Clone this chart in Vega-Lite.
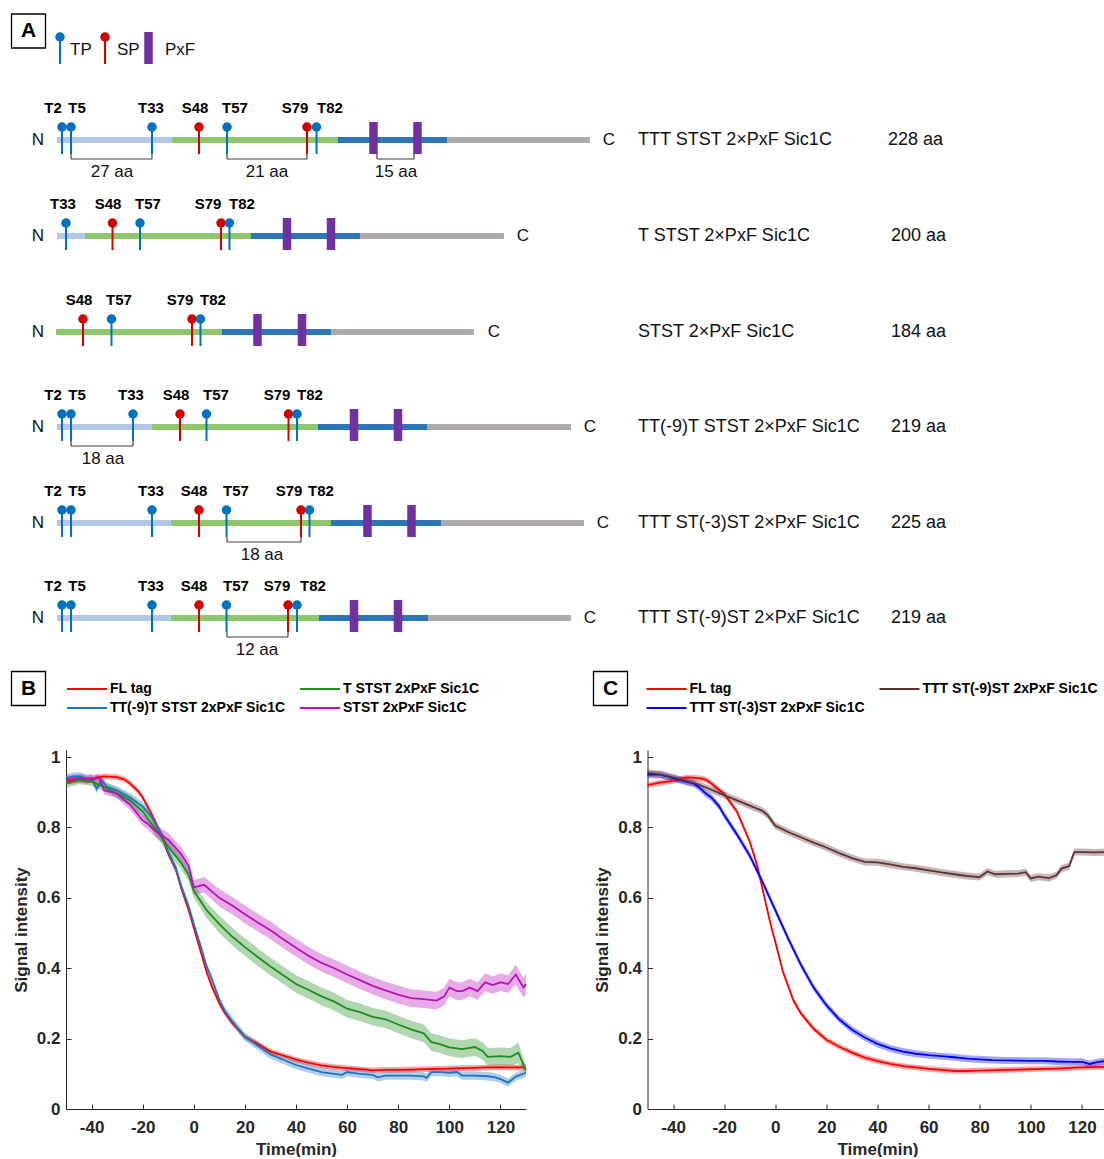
{
"$schema": "https://vega.github.io/schema/vega-lite/v6.json",
"background": "white",
"padding": {"left": 8, "top": 0, "right": 0, "bottom": 0},
"autosize": {"type": "pad"},
"bounds": "flush",
"spacing": 10,
"config": {
  "view": {"stroke": null},
  "font": "Liberation Sans",
  "axis": {"grid": false, "domainColor": "#262626", "tickColor": "#262626", "labelColor": "#262626", "titleColor": "#262626", "labelFont": "Liberation Sans", "titleFont": "Liberation Sans", "labelFontSize": 17, "labelFontWeight": "bold", "titleFontSize": 17, "titleFontWeight": "bold", "tickSize": -5, "labelPadding": 11, "labelFlush": false, "labelExpr": "'' + datum.value"},
  "axisX": {"labelPadding": 15, "titlePadding": 6},
  "axisY": {"titlePadding": 6},
  "legend": {"orient": "none", "columns": 2, "columnPadding": 10, "rowPadding": 5, "symbolType": "M-1,0H9", "symbolSize": 64, "symbolStrokeWidth": 2, "labelOffset": 32, "labelFontSize": 14, "labelFontWeight": "bold", "labelFont": "Liberation Sans", "labelColor": "#000000", "labelLimit": 400}
},
"datasets": {
  "segments": [
    {"x":57,"x2":172,"y":140,"part":"TTT"},{"x":172,"x2":338,"y":140,"part":"STST"},{"x":338,"x2":447,"y":140,"part":"Dock"},{"x":447,"x2":590,"y":140,"part":"Sic1C"},
    {"x":57,"x2":85,"y":236,"part":"TTT"},{"x":85,"x2":251,"y":236,"part":"STST"},{"x":251,"x2":360,"y":236,"part":"Dock"},{"x":360,"x2":504,"y":236,"part":"Sic1C"},
    {"x":56,"x2":222,"y":332,"part":"STST"},{"x":222,"x2":331,"y":332,"part":"Dock"},{"x":331,"x2":474,"y":332,"part":"Sic1C"},
    {"x":57,"x2":152,"y":427,"part":"TTT"},{"x":152,"x2":318,"y":427,"part":"STST"},{"x":318,"x2":427,"y":427,"part":"Dock"},{"x":427,"x2":571,"y":427,"part":"Sic1C"},
    {"x":57,"x2":171,"y":523,"part":"TTT"},{"x":171,"x2":331,"y":523,"part":"STST"},{"x":331,"x2":441,"y":523,"part":"Dock"},{"x":441,"x2":584,"y":523,"part":"Sic1C"},
    {"x":57,"x2":171,"y":618,"part":"TTT"},{"x":171,"x2":319,"y":618,"part":"STST"},{"x":319,"x2":428,"y":618,"part":"Dock"},{"x":428,"x2":571,"y":618,"part":"Sic1C"}
  ],
  "sites": [
    {"y":50,"x":60,"type":"TP","name":"","lx":60},{"y":50,"x":105,"type":"SP","name":"","lx":105},
    {"y":140,"x":62,"type":"TP","name":"T2","lx":53},{"y":140,"x":71,"type":"TP","name":"T5","lx":77},{"y":140,"x":152,"type":"TP","name":"T33","lx":151},{"y":140,"x":199,"type":"SP","name":"S48","lx":195},{"y":140,"x":227,"type":"TP","name":"T57","lx":235},{"y":140,"x":307,"type":"SP","name":"S79","lx":295},{"y":140,"x":316.5,"type":"TP","name":"T82","lx":330},
    {"y":236,"x":66,"type":"TP","name":"T33","lx":63},{"y":236,"x":112.5,"type":"SP","name":"S48","lx":108},{"y":236,"x":140,"type":"TP","name":"T57","lx":148},{"y":236,"x":221,"type":"SP","name":"S79","lx":208},{"y":236,"x":229.5,"type":"TP","name":"T82","lx":242},
    {"y":332,"x":83,"type":"SP","name":"S48","lx":79},{"y":332,"x":111.5,"type":"TP","name":"T57","lx":119},{"y":332,"x":192,"type":"SP","name":"S79","lx":180},{"y":332,"x":200.5,"type":"TP","name":"T82","lx":213},
    {"y":427,"x":62,"type":"TP","name":"T2","lx":53},{"y":427,"x":71,"type":"TP","name":"T5","lx":77},{"y":427,"x":133,"type":"TP","name":"T33","lx":131},{"y":427,"x":180,"type":"SP","name":"S48","lx":176},{"y":427,"x":206.5,"type":"TP","name":"T57","lx":216},{"y":427,"x":288.5,"type":"SP","name":"S79","lx":277},{"y":427,"x":297,"type":"TP","name":"T82","lx":310},
    {"y":523,"x":62,"type":"TP","name":"T2","lx":53},{"y":523,"x":71,"type":"TP","name":"T5","lx":77},{"y":523,"x":152,"type":"TP","name":"T33","lx":151},{"y":523,"x":199,"type":"SP","name":"S48","lx":194},{"y":523,"x":226.5,"type":"TP","name":"T57","lx":236},{"y":523,"x":301,"type":"SP","name":"S79","lx":289},{"y":523,"x":309.5,"type":"TP","name":"T82","lx":321},
    {"y":618,"x":62,"type":"TP","name":"T2","lx":53},{"y":618,"x":71,"type":"TP","name":"T5","lx":77},{"y":618,"x":152,"type":"TP","name":"T33","lx":151},{"y":618,"x":199,"type":"SP","name":"S48","lx":194},{"y":618,"x":226.5,"type":"TP","name":"T57","lx":236},{"y":618,"x":288,"type":"SP","name":"S79","lx":277},{"y":618,"x":297,"type":"TP","name":"T82","lx":313}
  ],
  "pxf": [
    {"y":50,"x":148.5},
    {"y":140,"x":373.5},{"y":140,"x":417.5},
    {"y":236,"x":287},{"y":236,"x":331},
    {"y":332,"x":257.5},{"y":332,"x":302},
    {"y":427,"x":354},{"y":427,"x":398},
    {"y":523,"x":367.5},{"y":523,"x":411.5},
    {"y":618,"x":354},{"y":618,"x":398}
  ],
  "brackets": [
    {"y":140,"x":71,"x2":152,"label":"27 aa","lx":112},
    {"y":140,"x":227,"x2":307,"label":"21 aa","lx":267},
    {"y":140,"x":377,"x2":414,"label":"15 aa","lx":396},
    {"y":427,"x":71,"x2":133,"label":"18 aa","lx":103},
    {"y":523,"x":227,"x2":301,"label":"18 aa","lx":262},
    {"y":618,"x":227,"x2":288,"label":"12 aa","lx":257}
  ],
  "ends": [
    {"y":140,"x":38,"t":"N"},{"y":140,"x":609,"t":"C"},
    {"y":236,"x":38,"t":"N"},{"y":236,"x":523,"t":"C"},
    {"y":332,"x":38,"t":"N"},{"y":332,"x":494,"t":"C"},
    {"y":427,"x":38,"t":"N"},{"y":427,"x":590,"t":"C"},
    {"y":523,"x":38,"t":"N"},{"y":523,"x":603,"t":"C"},
    {"y":618,"x":38,"t":"N"},{"y":618,"x":590,"t":"C"}
  ],
  "names": [
    {"y":140,"x":638,"t":"TTT STST 2×PxF Sic1C"},{"y":140,"x":888,"t":"228 aa"},
    {"y":236,"x":638,"t":"T STST 2×PxF Sic1C"},{"y":236,"x":891,"t":"200 aa"},
    {"y":332,"x":638,"t":"STST 2×PxF Sic1C"},{"y":332,"x":891,"t":"184 aa"},
    {"y":427,"x":638,"t":"TT(-9)T STST 2×PxF Sic1C"},{"y":427,"x":891,"t":"219 aa"},
    {"y":523,"x":638,"t":"TTT ST(-3)ST 2×PxF Sic1C"},{"y":523,"x":891,"t":"225 aa"},
    {"y":618,"x":638,"t":"TTT ST(-9)ST 2×PxF Sic1C"},{"y":618,"x":891,"t":"219 aa"}
  ],
  "keys": [
    {"y":50,"x":70,"t":"TP"},{"y":50,"x":117,"t":"SP"},{"y":50,"x":165,"t":"PxF"}
  ],
  "letters": [
    {"y":31,"x":28.5,"t":"A"},{"y":688.5,"x":28.5,"t":"B"},{"y":688.5,"x":610.5,"t":"C"}
  ],
  "B": [
    {"s":"FL tag","t":-50,"v":0.930,"e":0.008},{"s":"FL tag","t":-45,"v":0.935,"e":0.008},{"s":"FL tag","t":-40,"v":0.935,"e":0.008},{"s":"FL tag","t":-38,"v":0.942,"e":0.008},{"s":"FL tag","t":-35,"v":0.945,"e":0.008},{"s":"FL tag","t":-30,"v":0.943,"e":0.008},{"s":"FL tag","t":-27,"v":0.936,"e":0.008},{"s":"FL tag","t":-25,"v":0.925,"e":0.008},{"s":"FL tag","t":-22,"v":0.905,"e":0.008},{"s":"FL tag","t":-20,"v":0.885,"e":0.008},{"s":"FL tag","t":-17,"v":0.845,"e":0.008},{"s":"FL tag","t":-15,"v":0.815,"e":0.008},{"s":"FL tag","t":-12,"v":0.765,"e":0.008},{"s":"FL tag","t":-10,"v":0.725,"e":0.008},{"s":"FL tag","t":-7,"v":0.68,"e":0.008},{"s":"FL tag","t":-5,"v":0.63,"e":0.008},{"s":"FL tag","t":-2,"v":0.565,"e":0.008},{"s":"FL tag","t":0,"v":0.515,"e":0.008},{"s":"FL tag","t":3,"v":0.44,"e":0.008},{"s":"FL tag","t":5,"v":0.39,"e":0.008},{"s":"FL tag","t":7,"v":0.35,"e":0.008},{"s":"FL tag","t":10,"v":0.30,"e":0.008},{"s":"FL tag","t":12,"v":0.275,"e":0.008},{"s":"FL tag","t":15,"v":0.245,"e":0.008},{"s":"FL tag","t":20,"v":0.205,"e":0.008},{"s":"FL tag","t":25,"v":0.185,"e":0.008},{"s":"FL tag","t":30,"v":0.163,"e":0.008},{"s":"FL tag","t":35,"v":0.152,"e":0.008},{"s":"FL tag","t":40,"v":0.140,"e":0.008},{"s":"FL tag","t":45,"v":0.131,"e":0.008},{"s":"FL tag","t":50,"v":0.124,"e":0.008},{"s":"FL tag","t":55,"v":0.119,"e":0.008},{"s":"FL tag","t":60,"v":0.116,"e":0.008},{"s":"FL tag","t":65,"v":0.113,"e":0.008},{"s":"FL tag","t":70,"v":0.110,"e":0.008},{"s":"FL tag","t":75,"v":0.111,"e":0.008},{"s":"FL tag","t":80,"v":0.111,"e":0.008},{"s":"FL tag","t":85,"v":0.112,"e":0.008},{"s":"FL tag","t":90,"v":0.113,"e":0.008},{"s":"FL tag","t":95,"v":0.114,"e":0.008},{"s":"FL tag","t":100,"v":0.115,"e":0.008},{"s":"FL tag","t":105,"v":0.116,"e":0.008},{"s":"FL tag","t":110,"v":0.117,"e":0.008},{"s":"FL tag","t":115,"v":0.118,"e":0.008},{"s":"FL tag","t":120,"v":0.119,"e":0.008},{"s":"FL tag","t":125,"v":0.118,"e":0.008},{"s":"FL tag","t":130,"v":0.118,"e":0.008},
    {"s":"TT(-9)T STST 2xPxF Sic1C","t":-50,"v":0.94,"e":0.012},{"s":"TT(-9)T STST 2xPxF Sic1C","t":-47,"v":0.945,"e":0.012},{"s":"TT(-9)T STST 2xPxF Sic1C","t":-44,"v":0.945,"e":0.012},{"s":"TT(-9)T STST 2xPxF Sic1C","t":-42,"v":0.935,"e":0.012},{"s":"TT(-9)T STST 2xPxF Sic1C","t":-40,"v":0.94,"e":0.012},{"s":"TT(-9)T STST 2xPxF Sic1C","t":-38,"v":0.91,"e":0.012},{"s":"TT(-9)T STST 2xPxF Sic1C","t":-36,"v":0.935,"e":0.012},{"s":"TT(-9)T STST 2xPxF Sic1C","t":-34,"v":0.915,"e":0.012},{"s":"TT(-9)T STST 2xPxF Sic1C","t":-30,"v":0.905,"e":0.012},{"s":"TT(-9)T STST 2xPxF Sic1C","t":-25,"v":0.885,"e":0.012},{"s":"TT(-9)T STST 2xPxF Sic1C","t":-20,"v":0.86,"e":0.012},{"s":"TT(-9)T STST 2xPxF Sic1C","t":-17,"v":0.835,"e":0.012},{"s":"TT(-9)T STST 2xPxF Sic1C","t":-15,"v":0.81,"e":0.012},{"s":"TT(-9)T STST 2xPxF Sic1C","t":-12,"v":0.77,"e":0.012},{"s":"TT(-9)T STST 2xPxF Sic1C","t":-10,"v":0.73,"e":0.012},{"s":"TT(-9)T STST 2xPxF Sic1C","t":-7,"v":0.685,"e":0.012},{"s":"TT(-9)T STST 2xPxF Sic1C","t":-5,"v":0.635,"e":0.012},{"s":"TT(-9)T STST 2xPxF Sic1C","t":-2,"v":0.575,"e":0.012},{"s":"TT(-9)T STST 2xPxF Sic1C","t":0,"v":0.525,"e":0.012},{"s":"TT(-9)T STST 2xPxF Sic1C","t":3,"v":0.455,"e":0.012},{"s":"TT(-9)T STST 2xPxF Sic1C","t":5,"v":0.405,"e":0.012},{"s":"TT(-9)T STST 2xPxF Sic1C","t":7,"v":0.37,"e":0.012},{"s":"TT(-9)T STST 2xPxF Sic1C","t":10,"v":0.31,"e":0.012},{"s":"TT(-9)T STST 2xPxF Sic1C","t":12,"v":0.28,"e":0.012},{"s":"TT(-9)T STST 2xPxF Sic1C","t":15,"v":0.25,"e":0.012},{"s":"TT(-9)T STST 2xPxF Sic1C","t":20,"v":0.205,"e":0.012},{"s":"TT(-9)T STST 2xPxF Sic1C","t":25,"v":0.18,"e":0.012},{"s":"TT(-9)T STST 2xPxF Sic1C","t":30,"v":0.155,"e":0.012},{"s":"TT(-9)T STST 2xPxF Sic1C","t":35,"v":0.14,"e":0.012},{"s":"TT(-9)T STST 2xPxF Sic1C","t":40,"v":0.125,"e":0.012},{"s":"TT(-9)T STST 2xPxF Sic1C","t":45,"v":0.115,"e":0.012},{"s":"TT(-9)T STST 2xPxF Sic1C","t":50,"v":0.105,"e":0.012},{"s":"TT(-9)T STST 2xPxF Sic1C","t":55,"v":0.1,"e":0.012},{"s":"TT(-9)T STST 2xPxF Sic1C","t":58,"v":0.097,"e":0.012},{"s":"TT(-9)T STST 2xPxF Sic1C","t":60,"v":0.105,"e":0.012},{"s":"TT(-9)T STST 2xPxF Sic1C","t":65,"v":0.1,"e":0.012},{"s":"TT(-9)T STST 2xPxF Sic1C","t":70,"v":0.097,"e":0.012},{"s":"TT(-9)T STST 2xPxF Sic1C","t":72,"v":0.09,"e":0.012},{"s":"TT(-9)T STST 2xPxF Sic1C","t":75,"v":0.095,"e":0.012},{"s":"TT(-9)T STST 2xPxF Sic1C","t":80,"v":0.095,"e":0.012},{"s":"TT(-9)T STST 2xPxF Sic1C","t":85,"v":0.095,"e":0.012},{"s":"TT(-9)T STST 2xPxF Sic1C","t":90,"v":0.093,"e":0.012},{"s":"TT(-9)T STST 2xPxF Sic1C","t":91,"v":0.088,"e":0.012},{"s":"TT(-9)T STST 2xPxF Sic1C","t":93,"v":0.105,"e":0.012},{"s":"TT(-9)T STST 2xPxF Sic1C","t":97,"v":0.105,"e":0.012},{"s":"TT(-9)T STST 2xPxF Sic1C","t":100,"v":0.103,"e":0.012},{"s":"TT(-9)T STST 2xPxF Sic1C","t":103,"v":0.105,"e":0.012},{"s":"TT(-9)T STST 2xPxF Sic1C","t":105,"v":0.095,"e":0.012},{"s":"TT(-9)T STST 2xPxF Sic1C","t":110,"v":0.095,"e":0.012},{"s":"TT(-9)T STST 2xPxF Sic1C","t":115,"v":0.093,"e":0.012},{"s":"TT(-9)T STST 2xPxF Sic1C","t":118,"v":0.09,"e":0.012},{"s":"TT(-9)T STST 2xPxF Sic1C","t":120,"v":0.085,"e":0.012},{"s":"TT(-9)T STST 2xPxF Sic1C","t":123,"v":0.075,"e":0.012},{"s":"TT(-9)T STST 2xPxF Sic1C","t":126,"v":0.092,"e":0.012},{"s":"TT(-9)T STST 2xPxF Sic1C","t":130,"v":0.103,"e":0.012},
    {"s":"T STST 2xPxF Sic1C","t":-50,"v":0.925,"e":0.012},{"s":"T STST 2xPxF Sic1C","t":-45,"v":0.935,"e":0.012},{"s":"T STST 2xPxF Sic1C","t":-40,"v":0.93,"e":0.012},{"s":"T STST 2xPxF Sic1C","t":-35,"v":0.915,"e":0.012},{"s":"T STST 2xPxF Sic1C","t":-30,"v":0.897,"e":0.015},{"s":"T STST 2xPxF Sic1C","t":-25,"v":0.877,"e":0.015},{"s":"T STST 2xPxF Sic1C","t":-20,"v":0.845,"e":0.015},{"s":"T STST 2xPxF Sic1C","t":-15,"v":0.795,"e":0.018},{"s":"T STST 2xPxF Sic1C","t":-10,"v":0.745,"e":0.018},{"s":"T STST 2xPxF Sic1C","t":-5,"v":0.70,"e":0.018},{"s":"T STST 2xPxF Sic1C","t":-2,"v":0.665,"e":0.018},{"s":"T STST 2xPxF Sic1C","t":0,"v":0.62,"e":0.02},{"s":"T STST 2xPxF Sic1C","t":5,"v":0.565,"e":0.022},{"s":"T STST 2xPxF Sic1C","t":10,"v":0.525,"e":0.025},{"s":"T STST 2xPxF Sic1C","t":15,"v":0.49,"e":0.025},{"s":"T STST 2xPxF Sic1C","t":20,"v":0.46,"e":0.025},{"s":"T STST 2xPxF Sic1C","t":25,"v":0.432,"e":0.025},{"s":"T STST 2xPxF Sic1C","t":30,"v":0.405,"e":0.025},{"s":"T STST 2xPxF Sic1C","t":35,"v":0.38,"e":0.025},{"s":"T STST 2xPxF Sic1C","t":40,"v":0.355,"e":0.025},{"s":"T STST 2xPxF Sic1C","t":45,"v":0.338,"e":0.025},{"s":"T STST 2xPxF Sic1C","t":50,"v":0.32,"e":0.025},{"s":"T STST 2xPxF Sic1C","t":55,"v":0.305,"e":0.025},{"s":"T STST 2xPxF Sic1C","t":60,"v":0.285,"e":0.025},{"s":"T STST 2xPxF Sic1C","t":65,"v":0.275,"e":0.025},{"s":"T STST 2xPxF Sic1C","t":70,"v":0.262,"e":0.025},{"s":"T STST 2xPxF Sic1C","t":75,"v":0.255,"e":0.025},{"s":"T STST 2xPxF Sic1C","t":80,"v":0.24,"e":0.025},{"s":"T STST 2xPxF Sic1C","t":85,"v":0.226,"e":0.025},{"s":"T STST 2xPxF Sic1C","t":90,"v":0.215,"e":0.025},{"s":"T STST 2xPxF Sic1C","t":93,"v":0.19,"e":0.025},{"s":"T STST 2xPxF Sic1C","t":96,"v":0.185,"e":0.025},{"s":"T STST 2xPxF Sic1C","t":100,"v":0.175,"e":0.025},{"s":"T STST 2xPxF Sic1C","t":105,"v":0.17,"e":0.025},{"s":"T STST 2xPxF Sic1C","t":110,"v":0.176,"e":0.025},{"s":"T STST 2xPxF Sic1C","t":113,"v":0.165,"e":0.025},{"s":"T STST 2xPxF Sic1C","t":115,"v":0.148,"e":0.025},{"s":"T STST 2xPxF Sic1C","t":120,"v":0.15,"e":0.025},{"s":"T STST 2xPxF Sic1C","t":124,"v":0.148,"e":0.025},{"s":"T STST 2xPxF Sic1C","t":127,"v":0.16,"e":0.03},{"s":"T STST 2xPxF Sic1C","t":130,"v":0.11,"e":0.01},
    {"s":"STST 2xPxF Sic1C","t":-50,"v":0.935,"e":0.012},{"s":"STST 2xPxF Sic1C","t":-45,"v":0.94,"e":0.012},{"s":"STST 2xPxF Sic1C","t":-40,"v":0.938,"e":0.012},{"s":"STST 2xPxF Sic1C","t":-37,"v":0.94,"e":0.012},{"s":"STST 2xPxF Sic1C","t":-35,"v":0.905,"e":0.012},{"s":"STST 2xPxF Sic1C","t":-32,"v":0.9,"e":0.012},{"s":"STST 2xPxF Sic1C","t":-30,"v":0.895,"e":0.012},{"s":"STST 2xPxF Sic1C","t":-25,"v":0.865,"e":0.015},{"s":"STST 2xPxF Sic1C","t":-20,"v":0.82,"e":0.015},{"s":"STST 2xPxF Sic1C","t":-18,"v":0.81,"e":0.015},{"s":"STST 2xPxF Sic1C","t":-15,"v":0.79,"e":0.018},{"s":"STST 2xPxF Sic1C","t":-10,"v":0.765,"e":0.02},{"s":"STST 2xPxF Sic1C","t":-5,"v":0.725,"e":0.02},{"s":"STST 2xPxF Sic1C","t":-2,"v":0.69,"e":0.02},{"s":"STST 2xPxF Sic1C","t":0,"v":0.63,"e":0.02},{"s":"STST 2xPxF Sic1C","t":4,"v":0.637,"e":0.022},{"s":"STST 2xPxF Sic1C","t":10,"v":0.60,"e":0.025},{"s":"STST 2xPxF Sic1C","t":15,"v":0.578,"e":0.025},{"s":"STST 2xPxF Sic1C","t":20,"v":0.553,"e":0.025},{"s":"STST 2xPxF Sic1C","t":25,"v":0.53,"e":0.025},{"s":"STST 2xPxF Sic1C","t":30,"v":0.508,"e":0.025},{"s":"STST 2xPxF Sic1C","t":35,"v":0.482,"e":0.025},{"s":"STST 2xPxF Sic1C","t":40,"v":0.458,"e":0.025},{"s":"STST 2xPxF Sic1C","t":45,"v":0.435,"e":0.025},{"s":"STST 2xPxF Sic1C","t":50,"v":0.415,"e":0.025},{"s":"STST 2xPxF Sic1C","t":55,"v":0.4,"e":0.025},{"s":"STST 2xPxF Sic1C","t":60,"v":0.382,"e":0.025},{"s":"STST 2xPxF Sic1C","t":65,"v":0.366,"e":0.025},{"s":"STST 2xPxF Sic1C","t":70,"v":0.35,"e":0.025},{"s":"STST 2xPxF Sic1C","t":75,"v":0.337,"e":0.025},{"s":"STST 2xPxF Sic1C","t":80,"v":0.325,"e":0.025},{"s":"STST 2xPxF Sic1C","t":85,"v":0.315,"e":0.025},{"s":"STST 2xPxF Sic1C","t":90,"v":0.312,"e":0.025},{"s":"STST 2xPxF Sic1C","t":95,"v":0.308,"e":0.025},{"s":"STST 2xPxF Sic1C","t":98,"v":0.32,"e":0.025},{"s":"STST 2xPxF Sic1C","t":100,"v":0.345,"e":0.025},{"s":"STST 2xPxF Sic1C","t":103,"v":0.335,"e":0.025},{"s":"STST 2xPxF Sic1C","t":105,"v":0.335,"e":0.025},{"s":"STST 2xPxF Sic1C","t":108,"v":0.345,"e":0.025},{"s":"STST 2xPxF Sic1C","t":111,"v":0.335,"e":0.025},{"s":"STST 2xPxF Sic1C","t":114,"v":0.36,"e":0.025},{"s":"STST 2xPxF Sic1C","t":117,"v":0.352,"e":0.025},{"s":"STST 2xPxF Sic1C","t":120,"v":0.36,"e":0.025},{"s":"STST 2xPxF Sic1C","t":123,"v":0.355,"e":0.025},{"s":"STST 2xPxF Sic1C","t":126,"v":0.382,"e":0.028},{"s":"STST 2xPxF Sic1C","t":129,"v":0.345,"e":0.028},{"s":"STST 2xPxF Sic1C","t":130,"v":0.355,"e":0.028}
  ],
  "C": [
    {"s":"FL tag","t":-50,"v":0.92,"e":0.008},{"s":"FL tag","t":-45,"v":0.927,"e":0.008},{"s":"FL tag","t":-40,"v":0.932,"e":0.008},{"s":"FL tag","t":-35,"v":0.942,"e":0.008},{"s":"FL tag","t":-30,"v":0.94,"e":0.008},{"s":"FL tag","t":-27,"v":0.935,"e":0.008},{"s":"FL tag","t":-25,"v":0.925,"e":0.008},{"s":"FL tag","t":-20,"v":0.895,"e":0.008},{"s":"FL tag","t":-15,"v":0.845,"e":0.008},{"s":"FL tag","t":-10,"v":0.76,"e":0.008},{"s":"FL tag","t":-7,"v":0.69,"e":0.008},{"s":"FL tag","t":-5,"v":0.625,"e":0.008},{"s":"FL tag","t":-2,"v":0.53,"e":0.008},{"s":"FL tag","t":0,"v":0.475,"e":0.008},{"s":"FL tag","t":3,"v":0.39,"e":0.008},{"s":"FL tag","t":5,"v":0.35,"e":0.008},{"s":"FL tag","t":7,"v":0.31,"e":0.008},{"s":"FL tag","t":10,"v":0.272,"e":0.008},{"s":"FL tag","t":15,"v":0.228,"e":0.008},{"s":"FL tag","t":20,"v":0.197,"e":0.008},{"s":"FL tag","t":25,"v":0.177,"e":0.008},{"s":"FL tag","t":30,"v":0.16,"e":0.008},{"s":"FL tag","t":35,"v":0.146,"e":0.008},{"s":"FL tag","t":40,"v":0.136,"e":0.008},{"s":"FL tag","t":45,"v":0.128,"e":0.008},{"s":"FL tag","t":50,"v":0.122,"e":0.008},{"s":"FL tag","t":55,"v":0.118,"e":0.008},{"s":"FL tag","t":60,"v":0.114,"e":0.008},{"s":"FL tag","t":65,"v":0.111,"e":0.008},{"s":"FL tag","t":70,"v":0.108,"e":0.008},{"s":"FL tag","t":75,"v":0.108,"e":0.008},{"s":"FL tag","t":80,"v":0.109,"e":0.008},{"s":"FL tag","t":90,"v":0.111,"e":0.008},{"s":"FL tag","t":100,"v":0.113,"e":0.008},{"s":"FL tag","t":110,"v":0.115,"e":0.008},{"s":"FL tag","t":120,"v":0.118,"e":0.008},{"s":"FL tag","t":130,"v":0.12,"e":0.008},
    {"s":"TTT ST(-3)ST 2xPxF Sic1C","t":-50,"v":0.95,"e":0.01},{"s":"TTT ST(-3)ST 2xPxF Sic1C","t":-45,"v":0.95,"e":0.01},{"s":"TTT ST(-3)ST 2xPxF Sic1C","t":-40,"v":0.94,"e":0.01},{"s":"TTT ST(-3)ST 2xPxF Sic1C","t":-35,"v":0.93,"e":0.01},{"s":"TTT ST(-3)ST 2xPxF Sic1C","t":-32,"v":0.925,"e":0.01},{"s":"TTT ST(-3)ST 2xPxF Sic1C","t":-30,"v":0.915,"e":0.01},{"s":"TTT ST(-3)ST 2xPxF Sic1C","t":-27,"v":0.895,"e":0.01},{"s":"TTT ST(-3)ST 2xPxF Sic1C","t":-25,"v":0.885,"e":0.01},{"s":"TTT ST(-3)ST 2xPxF Sic1C","t":-22,"v":0.86,"e":0.01},{"s":"TTT ST(-3)ST 2xPxF Sic1C","t":-20,"v":0.835,"e":0.01},{"s":"TTT ST(-3)ST 2xPxF Sic1C","t":-15,"v":0.78,"e":0.01},{"s":"TTT ST(-3)ST 2xPxF Sic1C","t":-10,"v":0.72,"e":0.01},{"s":"TTT ST(-3)ST 2xPxF Sic1C","t":-5,"v":0.645,"e":0.01},{"s":"TTT ST(-3)ST 2xPxF Sic1C","t":0,"v":0.565,"e":0.01},{"s":"TTT ST(-3)ST 2xPxF Sic1C","t":5,"v":0.485,"e":0.01},{"s":"TTT ST(-3)ST 2xPxF Sic1C","t":10,"v":0.41,"e":0.01},{"s":"TTT ST(-3)ST 2xPxF Sic1C","t":15,"v":0.345,"e":0.01},{"s":"TTT ST(-3)ST 2xPxF Sic1C","t":20,"v":0.295,"e":0.01},{"s":"TTT ST(-3)ST 2xPxF Sic1C","t":25,"v":0.255,"e":0.01},{"s":"TTT ST(-3)ST 2xPxF Sic1C","t":30,"v":0.225,"e":0.01},{"s":"TTT ST(-3)ST 2xPxF Sic1C","t":35,"v":0.203,"e":0.01},{"s":"TTT ST(-3)ST 2xPxF Sic1C","t":40,"v":0.185,"e":0.01},{"s":"TTT ST(-3)ST 2xPxF Sic1C","t":45,"v":0.172,"e":0.01},{"s":"TTT ST(-3)ST 2xPxF Sic1C","t":50,"v":0.163,"e":0.01},{"s":"TTT ST(-3)ST 2xPxF Sic1C","t":55,"v":0.157,"e":0.01},{"s":"TTT ST(-3)ST 2xPxF Sic1C","t":60,"v":0.153,"e":0.01},{"s":"TTT ST(-3)ST 2xPxF Sic1C","t":65,"v":0.15,"e":0.01},{"s":"TTT ST(-3)ST 2xPxF Sic1C","t":70,"v":0.147,"e":0.01},{"s":"TTT ST(-3)ST 2xPxF Sic1C","t":75,"v":0.143,"e":0.01},{"s":"TTT ST(-3)ST 2xPxF Sic1C","t":80,"v":0.141,"e":0.01},{"s":"TTT ST(-3)ST 2xPxF Sic1C","t":85,"v":0.139,"e":0.01},{"s":"TTT ST(-3)ST 2xPxF Sic1C","t":90,"v":0.138,"e":0.01},{"s":"TTT ST(-3)ST 2xPxF Sic1C","t":100,"v":0.137,"e":0.01},{"s":"TTT ST(-3)ST 2xPxF Sic1C","t":105,"v":0.137,"e":0.01},{"s":"TTT ST(-3)ST 2xPxF Sic1C","t":110,"v":0.135,"e":0.01},{"s":"TTT ST(-3)ST 2xPxF Sic1C","t":115,"v":0.134,"e":0.01},{"s":"TTT ST(-3)ST 2xPxF Sic1C","t":120,"v":0.134,"e":0.01},{"s":"TTT ST(-3)ST 2xPxF Sic1C","t":123,"v":0.128,"e":0.01},{"s":"TTT ST(-3)ST 2xPxF Sic1C","t":126,"v":0.133,"e":0.01},{"s":"TTT ST(-3)ST 2xPxF Sic1C","t":130,"v":0.137,"e":0.01},
    {"s":"TTT ST(-9)ST 2xPxF Sic1C","t":-50,"v":0.955,"e":0.01},{"s":"TTT ST(-9)ST 2xPxF Sic1C","t":-45,"v":0.95,"e":0.01},{"s":"TTT ST(-9)ST 2xPxF Sic1C","t":-40,"v":0.942,"e":0.01},{"s":"TTT ST(-9)ST 2xPxF Sic1C","t":-35,"v":0.932,"e":0.01},{"s":"TTT ST(-9)ST 2xPxF Sic1C","t":-30,"v":0.922,"e":0.01},{"s":"TTT ST(-9)ST 2xPxF Sic1C","t":-25,"v":0.907,"e":0.01},{"s":"TTT ST(-9)ST 2xPxF Sic1C","t":-20,"v":0.892,"e":0.01},{"s":"TTT ST(-9)ST 2xPxF Sic1C","t":-15,"v":0.877,"e":0.01},{"s":"TTT ST(-9)ST 2xPxF Sic1C","t":-10,"v":0.862,"e":0.01},{"s":"TTT ST(-9)ST 2xPxF Sic1C","t":-5,"v":0.847,"e":0.01},{"s":"TTT ST(-9)ST 2xPxF Sic1C","t":-3,"v":0.835,"e":0.01},{"s":"TTT ST(-9)ST 2xPxF Sic1C","t":0,"v":0.805,"e":0.01},{"s":"TTT ST(-9)ST 2xPxF Sic1C","t":5,"v":0.787,"e":0.01},{"s":"TTT ST(-9)ST 2xPxF Sic1C","t":10,"v":0.772,"e":0.01},{"s":"TTT ST(-9)ST 2xPxF Sic1C","t":15,"v":0.757,"e":0.01},{"s":"TTT ST(-9)ST 2xPxF Sic1C","t":20,"v":0.743,"e":0.01},{"s":"TTT ST(-9)ST 2xPxF Sic1C","t":25,"v":0.727,"e":0.01},{"s":"TTT ST(-9)ST 2xPxF Sic1C","t":30,"v":0.713,"e":0.01},{"s":"TTT ST(-9)ST 2xPxF Sic1C","t":35,"v":0.702,"e":0.01},{"s":"TTT ST(-9)ST 2xPxF Sic1C","t":40,"v":0.701,"e":0.01},{"s":"TTT ST(-9)ST 2xPxF Sic1C","t":45,"v":0.695,"e":0.01},{"s":"TTT ST(-9)ST 2xPxF Sic1C","t":50,"v":0.688,"e":0.01},{"s":"TTT ST(-9)ST 2xPxF Sic1C","t":55,"v":0.684,"e":0.01},{"s":"TTT ST(-9)ST 2xPxF Sic1C","t":60,"v":0.678,"e":0.01},{"s":"TTT ST(-9)ST 2xPxF Sic1C","t":65,"v":0.672,"e":0.01},{"s":"TTT ST(-9)ST 2xPxF Sic1C","t":70,"v":0.667,"e":0.01},{"s":"TTT ST(-9)ST 2xPxF Sic1C","t":75,"v":0.662,"e":0.01},{"s":"TTT ST(-9)ST 2xPxF Sic1C","t":80,"v":0.659,"e":0.01},{"s":"TTT ST(-9)ST 2xPxF Sic1C","t":83,"v":0.675,"e":0.01},{"s":"TTT ST(-9)ST 2xPxF Sic1C","t":86,"v":0.667,"e":0.01},{"s":"TTT ST(-9)ST 2xPxF Sic1C","t":90,"v":0.668,"e":0.01},{"s":"TTT ST(-9)ST 2xPxF Sic1C","t":95,"v":0.669,"e":0.01},{"s":"TTT ST(-9)ST 2xPxF Sic1C","t":98,"v":0.673,"e":0.01},{"s":"TTT ST(-9)ST 2xPxF Sic1C","t":100,"v":0.655,"e":0.01},{"s":"TTT ST(-9)ST 2xPxF Sic1C","t":103,"v":0.66,"e":0.01},{"s":"TTT ST(-9)ST 2xPxF Sic1C","t":107,"v":0.656,"e":0.01},{"s":"TTT ST(-9)ST 2xPxF Sic1C","t":110,"v":0.664,"e":0.01},{"s":"TTT ST(-9)ST 2xPxF Sic1C","t":112,"v":0.683,"e":0.01},{"s":"TTT ST(-9)ST 2xPxF Sic1C","t":115,"v":0.69,"e":0.01},{"s":"TTT ST(-9)ST 2xPxF Sic1C","t":117,"v":0.73,"e":0.01},{"s":"TTT ST(-9)ST 2xPxF Sic1C","t":120,"v":0.73,"e":0.01},{"s":"TTT ST(-9)ST 2xPxF Sic1C","t":125,"v":0.729,"e":0.01},{"s":"TTT ST(-9)ST 2xPxF Sic1C","t":130,"v":0.73,"e":0.01}
  ]
},
"resolve": {"scale": {"color": "independent", "stroke": "independent"}, "legend": {"color": "independent", "stroke": "independent"}},
"vconcat": [
  {
    "width": 1038, "height": 740,
    "layer": [
      {"data": {"name": "segments"}, "mark": {"type": "rule", "strokeWidth": 6, "strokeCap": "butt"},
       "encoding": {
         "x": {"field": "x", "type": "quantitative", "scale": {"domain": [66, 1104], "nice": false, "zero": false}, "axis": null},
         "x2": {"field": "x2"},
         "y": {"field": "y", "type": "quantitative", "scale": {"domain": [0, 740], "reverse": true, "nice": false, "zero": false}, "axis": null},
         "color": {"field": "part", "type": "nominal", "scale": {"domain": ["TTT", "STST", "Dock", "Sic1C", "TP", "SP"], "range": ["#B4C7E7", "#8DC66B", "#2E75B6", "#AFABAB", "#0070C0", "#D40000"]}, "legend": null}}},
      {"data": {"name": "sites"}, "mark": {"type": "rule", "strokeWidth": 2, "yOffset": -13, "y2Offset": 14},
       "encoding": {
         "x": {"field": "x", "type": "quantitative", "scale": {"domain": [66, 1104], "nice": false, "zero": false}, "axis": null},
         "y": {"field": "y", "type": "quantitative", "scale": {"domain": [0, 740], "reverse": true, "nice": false, "zero": false}, "axis": null},
         "y2": {"field": "y"},
         "color": {"field": "type", "type": "nominal", "scale": {"domain": ["TTT", "STST", "Dock", "Sic1C", "TP", "SP"], "range": ["#B4C7E7", "#8DC66B", "#2E75B6", "#AFABAB", "#0070C0", "#D40000"]}, "legend": null}}},
      {"data": {"name": "sites"}, "mark": {"type": "point", "filled": true, "opacity": 1, "size": 90, "shape": "circle", "yOffset": -13},
       "encoding": {
         "x": {"field": "x", "type": "quantitative", "scale": {"domain": [66, 1104], "nice": false, "zero": false}, "axis": null},
         "y": {"field": "y", "type": "quantitative", "scale": {"domain": [0, 740], "reverse": true, "nice": false, "zero": false}, "axis": null},
         "color": {"field": "type", "type": "nominal", "scale": {"domain": ["TTT", "STST", "Dock", "Sic1C", "TP", "SP"], "range": ["#B4C7E7", "#8DC66B", "#2E75B6", "#AFABAB", "#0070C0", "#D40000"]}, "legend": null}}},
      {"data": {"name": "pxf"}, "mark": {"type": "rule", "strokeWidth": 8.5, "color": "#7030A0", "yOffset": -18, "y2Offset": 14},
       "encoding": {
         "x": {"field": "x", "type": "quantitative", "scale": {"domain": [66, 1104], "nice": false, "zero": false}, "axis": null},
         "y": {"field": "y", "type": "quantitative", "scale": {"domain": [0, 740], "reverse": true, "nice": false, "zero": false}, "axis": null},
         "y2": {"field": "y"}}},
      {"data": {"name": "brackets"}, "mark": {"type": "rule", "strokeWidth": 1.2, "color": "#404040", "yOffset": 19},
       "encoding": {
         "x": {"field": "x", "type": "quantitative", "scale": {"domain": [66, 1104], "nice": false, "zero": false}, "axis": null},
         "x2": {"field": "x2"},
         "y": {"field": "y", "type": "quantitative", "scale": {"domain": [0, 740], "reverse": true, "nice": false, "zero": false}, "axis": null}}},
      {"data": {"name": "brackets"}, "transform": [{"fold": ["x", "x2"], "as": ["end", "xe"]}],
       "mark": {"type": "rule", "strokeWidth": 1.2, "color": "#404040", "yOffset": 14, "y2Offset": 19},
       "encoding": {
         "x": {"field": "xe", "type": "quantitative", "scale": {"domain": [66, 1104], "nice": false, "zero": false}, "axis": null},
         "y": {"field": "y", "type": "quantitative", "scale": {"domain": [0, 740], "reverse": true, "nice": false, "zero": false}, "axis": null},
         "y2": {"field": "y"}}},
      {"data": {"name": "brackets"}, "mark": {"type": "text", "fontSize": 17, "yOffset": 32, "color": "#111111"},
       "encoding": {
         "x": {"field": "lx", "type": "quantitative", "scale": {"domain": [66, 1104], "nice": false, "zero": false}, "axis": null},
         "y": {"field": "y", "type": "quantitative", "scale": {"domain": [0, 740], "reverse": true, "nice": false, "zero": false}, "axis": null},
         "text": {"field": "label"}}},
      {"data": {"name": "sites"}, "mark": {"type": "text", "fontSize": 15, "fontWeight": "bold", "yOffset": -32, "color": "#000000"},
       "encoding": {
         "x": {"field": "lx", "type": "quantitative", "scale": {"domain": [66, 1104], "nice": false, "zero": false}, "axis": null},
         "y": {"field": "y", "type": "quantitative", "scale": {"domain": [0, 740], "reverse": true, "nice": false, "zero": false}, "axis": null},
         "text": {"field": "name"}}},
      {"data": {"name": "ends"}, "mark": {"type": "text", "fontSize": 17, "color": "#111111"},
       "encoding": {
         "x": {"field": "x", "type": "quantitative", "scale": {"domain": [66, 1104], "nice": false, "zero": false}, "axis": null},
         "y": {"field": "y", "type": "quantitative", "scale": {"domain": [0, 740], "reverse": true, "nice": false, "zero": false}, "axis": null},
         "text": {"field": "t"}}},
      {"data": {"name": "names"}, "mark": {"type": "text", "fontSize": 18, "align": "left", "color": "#111111"},
       "encoding": {
         "x": {"field": "x", "type": "quantitative", "scale": {"domain": [66, 1104], "nice": false, "zero": false}, "axis": null},
         "y": {"field": "y", "type": "quantitative", "scale": {"domain": [0, 740], "reverse": true, "nice": false, "zero": false}, "axis": null},
         "text": {"field": "t"}}},
      {"data": {"name": "keys"}, "mark": {"type": "text", "fontSize": 17, "align": "left", "color": "#111111"},
       "encoding": {
         "x": {"field": "x", "type": "quantitative", "scale": {"domain": [66, 1104], "nice": false, "zero": false}, "axis": null},
         "y": {"field": "y", "type": "quantitative", "scale": {"domain": [0, 740], "reverse": true, "nice": false, "zero": false}, "axis": null},
         "text": {"field": "t"}}},
      {"data": {"name": "letters"}, "mark": {"type": "point", "shape": "square", "size": 1156, "filled": false, "color": "#000000", "strokeWidth": 1.3, "opacity": 1},
       "encoding": {
         "x": {"field": "x", "type": "quantitative", "scale": {"domain": [66, 1104], "nice": false, "zero": false}, "axis": null},
         "y": {"field": "y", "type": "quantitative", "scale": {"domain": [0, 740], "reverse": true, "nice": false, "zero": false}, "axis": null}}},
      {"data": {"name": "letters"}, "mark": {"type": "text", "fontSize": 21, "fontWeight": "bold", "color": "#000000"},
       "encoding": {
         "x": {"field": "x", "type": "quantitative", "scale": {"domain": [66, 1104], "nice": false, "zero": false}, "axis": null},
         "y": {"field": "y", "type": "quantitative", "scale": {"domain": [0, 740], "reverse": true, "nice": false, "zero": false}, "axis": null},
         "text": {"field": "t"}}}
    ]
  },
  {
    "hconcat": [
      {
        "width": 460, "height": 359,
        "data": {"name": "B"},
        "encoding": {"x": {"field": "t", "type": "quantitative", "scale": {"domain": [-50, 130], "nice": false, "zero": false}, "axis": {"values": [-40, -20, 0, 20, 40, 60, 80, 100, 120], "title": "Time(min)"}}},
        "layer": [
          {"mark": {"type": "errorband", "band": {"opacity": 0.35}},
           "encoding": {
             "y": {"field": "v", "type": "quantitative", "scale": {"domain": [0, 1.02], "nice": false, "zero": false}, "axis": {"values": [0, 0.2, 0.4, 0.6, 0.8, 1], "title": "Signal intensity"}},
             "yError": {"field": "e"},
             "color": {"field": "s", "type": "nominal", "scale": {"domain": ["STST 2xPxF Sic1C", "T STST 2xPxF Sic1C", "TT(-9)T STST 2xPxF Sic1C", "FL tag"], "range": ["#BB10BB", "#1E8C1E", "#1F74BD", "#FF0000"]}, "legend": null}}},
          {"mark": {"type": "line", "strokeWidth": 1.8},
           "encoding": {
             "y": {"field": "v", "type": "quantitative", "scale": {"domain": [0, 1.02], "nice": false, "zero": false}, "axis": {"values": [0, 0.2, 0.4, 0.6, 0.8, 1], "title": "Signal intensity"}},
             "stroke": {"field": "s", "type": "nominal", "scale": {"domain": ["FL tag", "TT(-9)T STST 2xPxF Sic1C", "T STST 2xPxF Sic1C", "STST 2xPxF Sic1C"], "range": ["#FF0000", "#1F74BD", "#1E8C1E", "#BB10BB"]}, "legend": {"title": null, "legendX": -2, "legendY": -68}}}}
        ]
      },
      {
        "width": 460, "height": 359,
        "data": {"name": "C"},
        "encoding": {"x": {"field": "t", "type": "quantitative", "scale": {"domain": [-50, 130], "nice": false, "zero": false}, "axis": {"values": [-40, -20, 0, 20, 40, 60, 80, 100, 120], "title": "Time(min)"}}},
        "layer": [
          {"mark": {"type": "errorband", "band": {"opacity": 0.35}},
           "encoding": {
             "y": {"field": "v", "type": "quantitative", "scale": {"domain": [0, 1.02], "nice": false, "zero": false}, "axis": {"values": [0, 0.2, 0.4, 0.6, 0.8, 1], "title": "Signal intensity"}},
             "yError": {"field": "e"},
             "color": {"field": "s", "type": "nominal", "scale": {"domain": ["TTT ST(-9)ST 2xPxF Sic1C", "TTT ST(-3)ST 2xPxF Sic1C", "FL tag"], "range": ["#5E3535", "#0000FF", "#FF0000"]}, "legend": null}}},
          {"mark": {"type": "line", "strokeWidth": 1.8},
           "encoding": {
             "y": {"field": "v", "type": "quantitative", "scale": {"domain": [0, 1.02], "nice": false, "zero": false}, "axis": {"values": [0, 0.2, 0.4, 0.6, 0.8, 1], "title": "Signal intensity"}},
             "stroke": {"field": "s", "type": "nominal", "scale": {"domain": ["FL tag", "TTT ST(-3)ST 2xPxF Sic1C", "TTT ST(-9)ST 2xPxF Sic1C"], "range": ["#FF0000", "#0000FF", "#5E3535"]}, "legend": {"title": null, "legendX": -4, "legendY": -68}}}}
        ]
      }
    ],
    "spacing": 121.5,
    "bounds": "flush",
    "resolve": {"scale": {"color": "independent", "stroke": "independent"}, "legend": {"color": "independent", "stroke": "independent"}}
  }
]
}
